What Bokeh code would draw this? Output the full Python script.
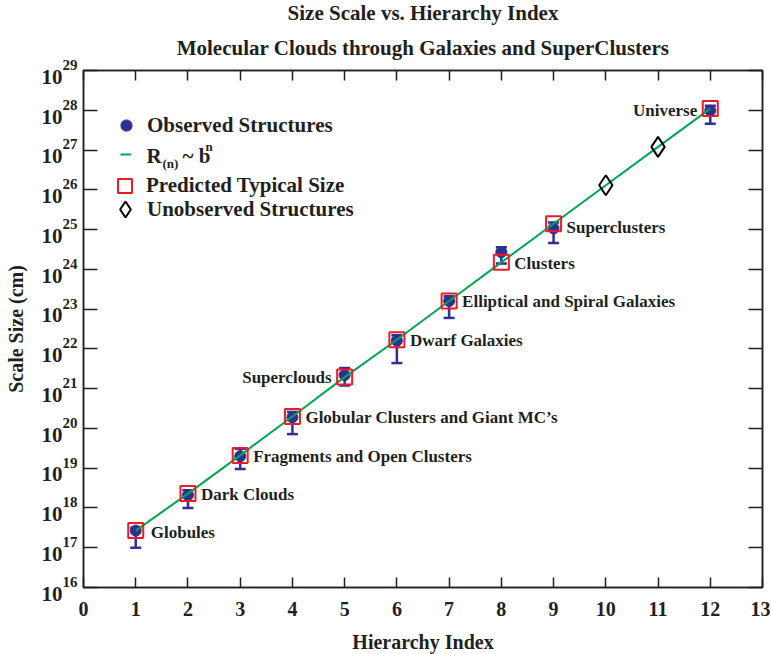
import math
from bokeh.plotting import figure
from bokeh.models import (Range1d, FixedTicker, LinearAxis, LogAxis, Whisker, TeeHead,
                          ColumnDataSource, Label, Legend, LegendItem, CustomJSTickFormatter,
                          Title)
from bokeh.embed import file_html
from bokeh.resources import INLINE

# ---------------- data ----------------
obs_index = [1, 2, 3, 4, 5, 6, 7, 8, 9, 12]
obs_size = [2.7e17, 2.1e18, 2.0e19, 1.9e20, 2.2e21, 1.6e22, 1.6e23, 2.7e24, 1.07e25, 9.8e27]
obs_lower = [1.0e17, 1.0e18, 9.5e18, 7.2e19, 1.2e21, 4.4e21, 6.0e22, 1.4e24, 4.6e24, 4.6e27]
obs_upper = [3.2e17, 2.8e18, 3.1e19, 2.6e20, 3.3e21, 2.2e22, 2.1e23, 3.6e24, 1.5e25, 1.3e28]

pred_index = [1, 2, 3, 4, 5, 6, 7, 8, 9, 12]
pred_size = [2.7e17, 2.3e18, 2.1e19, 2.0e20, 1.95e21, 1.7e22, 1.6e23, 1.5e24, 1.4e25, 1.1e28]

unobs_index = [10, 11]
unobs_size = [1.3e26, 1.2e27]

fit_index = [1, 2, 3, 4, 5, 6, 7, 8, 9, 10, 11, 12]
fit_size = [2.7e17, 2.3e18, 2.1e19, 2.0e20, 1.95e21, 1.7e22, 1.6e23, 1.5e24, 1.4e25,
            1.3e26, 1.2e27, 1.1e28]

structure_names = ["Globules", "Dark Clouds", "Fragments and Open Clusters",
                   "Globular Clusters and Giant MC\u2019s", "Superclouds", "Dwarf Galaxies",
                   "Elliptical and Spiral Galaxies", "Clusters", "Superclusters", "Universe"]
structure_index = [1, 2, 3, 4, 5, 6, 7, 8, 9, 12]
structure_size = [2.7e17, 2.3e18, 2.1e19, 2.0e20, 1.95e21, 1.7e22, 1.6e23, 1.5e24, 1.4e25, 1.1e28]

x_ticks = [0, 1, 2, 3, 4, 5, 6, 7, 8, 9, 10, 11, 12, 13]
y_exponents = [16, 17, 18, 19, 20, 21, 22, 23, 24, 25, 26, 27, 28, 29]

title_lines = ["Size Scale vs. Hierarchy Index",
               "Molecular Clouds through Galaxies and SuperClusters"]

# ---------------- style ----------------
FONT = "Liberation Serif"
TXT = "#231f20"
NAVY = "#2e3192"
RED = "#ed1c24"
GREEN = "#00a651"

YMIN = 1e16
YMAX = 1e29

p = figure(frame_width=679, frame_height=517,
           x_range=Range1d(0, 13), y_range=Range1d(YMIN, YMAX),
           y_axis_type="log", output_backend="svg", toolbar_location=None,
           x_axis_location=None,
           min_border_left=83, min_border_right=8, min_border_top=70, min_border_bottom=40)
p.grid.visible = False
p.outline_line_color = TXT
p.outline_line_width = 1.5
p.background_fill_color = "white"
p.border_fill_color = "white"

# axes: bottom (labelled), top and right (ticks only)
bottom = LinearAxis()
p.add_layout(bottom, "below")
top_axis = LinearAxis()
p.add_layout(top_axis, "above")
# two-line title, outward from the frame: line 2 then line 1
p.add_layout(Title(text=title_lines[1], align="center", text_font=FONT,
                   text_font_style="bold", text_font_size="21px", text_color=TXT,
                   standoff=21), "above")
p.title.text = title_lines[0]
p.title.align = "center"
p.title.text_font = FONT
p.title.text_font_style = "bold"
p.title.text_font_size = "21px"
p.title.text_color = TXT
p.title.standoff = -3

right_axis = LogAxis()
p.add_layout(right_axis, "right")

y_tick_values = [10.0 ** e for e in y_exponents]

# left: inner axis carries the ticks and the exponents, outer axis the "10"s
exp_axis = p.left[0]
ten_axis = LogAxis()
p.add_layout(ten_axis, "left")

blank = CustomJSTickFormatter(code="return ''")

for ax in [bottom, top_axis]:
    ax.ticker = FixedTicker(ticks=x_ticks, minor_ticks=[])
    ax.major_tick_in = 10
    ax.major_tick_out = 0
    ax.minor_tick_in = 0
    ax.minor_tick_out = 0
    ax.axis_line_color = TXT
    ax.axis_line_width = 1.5
    ax.major_tick_line_color = TXT
    ax.major_tick_line_width = 1.5

for ax in [exp_axis, ten_axis, right_axis]:
    ax.ticker = FixedTicker(ticks=y_tick_values, minor_ticks=[])
    ax.major_tick_in = 14
    ax.major_tick_out = 0
    ax.minor_tick_in = 0
    ax.minor_tick_out = 0
    ax.axis_line_color = TXT
    ax.axis_line_width = 1.5
    ax.major_tick_line_color = TXT
    ax.major_tick_line_width = 1.5

right_axis.formatter = blank
right_axis.major_label_standoff = 0
top_axis.formatter = blank
top_axis.major_label_standoff = 0

exp_axis.formatter = CustomJSTickFormatter(
    code="return String(Math.round(Math.log10(tick))) + '\\n ';")
exp_axis.major_label_text_font = FONT
exp_axis.major_label_text_font_style = "bold"
exp_axis.major_label_text_font_size = "15px"
exp_axis.major_label_text_line_height = 0.7
exp_axis.major_label_text_color = TXT
exp_axis.major_label_standoff = 6

ten_axis.formatter = CustomJSTickFormatter(code="return ' \\n10';")
ten_axis.axis_line_color = None
ten_axis.major_tick_line_color = None
ten_axis.major_label_text_font = FONT
ten_axis.major_label_text_font_style = "bold"
ten_axis.major_label_text_font_size = "21px"
ten_axis.major_label_text_line_height = 0.52
ten_axis.major_label_text_color = TXT
ten_axis.major_label_standoff = -3
ten_axis.axis_label = "Scale Size (cm)"
ten_axis.axis_label_text_font = FONT
ten_axis.axis_label_text_font_style = "bold"
ten_axis.axis_label_text_font_size = "20px"
ten_axis.axis_label_text_color = TXT
ten_axis.axis_label_standoff = 12

bottom.major_label_text_font = FONT
bottom.major_label_text_font_style = "bold"
bottom.major_label_text_font_size = "20px"
bottom.major_label_text_color = TXT
bottom.major_label_standoff = 14
bottom.axis_label = "Hierarchy Index"
bottom.axis_label_text_font = FONT
bottom.axis_label_text_font_style = "bold"
bottom.axis_label_text_font_size = "20px"
bottom.axis_label_text_color = TXT
bottom.axis_label_standoff = 12

# ---------------- data renderers ----------------
err_src = ColumnDataSource(dict(x=obs_index, lower=obs_lower, upper=obs_upper))
whisk = Whisker(source=err_src, base="x", lower="lower", upper="upper",
                line_color=NAVY, line_width=2.5, level="underlay",
                upper_head=TeeHead(size=11, line_color=NAVY, line_width=2.5),
                lower_head=TeeHead(size=11, line_color=NAVY, line_width=2.5))
p.add_layout(whisk)

circles = p.scatter(obs_index, obs_size, marker="circle", size=11,
                    fill_color=NAVY, line_color=NAVY)
fit_line = p.line(fit_index, fit_size, line_color=GREEN, line_width=2)
squares = p.scatter(pred_index, pred_size, marker="square", size=15,
                    fill_color=None, line_color=RED, line_width=2)
diamonds = p.scatter(unobs_index, unobs_size, marker="diamond", size=20,
                     fill_color=None, line_color="black", line_width=2)


def add_label(text, x, y, xo=0, yo=0, size="17px", align="left", angle=0.0):
    p.add_layout(Label(x=x, y=y, x_offset=xo, y_offset=yo, text=text,
                       text_font=FONT, text_font_style="bold", text_font_size=size,
                       text_color=TXT, text_align=align, text_baseline="middle",
                       angle=angle))


# structure annotations
label_place = {"Superclouds": (-13, 0, "right"), "Universe": (-13, -2, "right"),
               "Globules": (15, -2, "left"), "Superclusters": (13, -4, "left")}
for name, xi, yi in zip(structure_names, structure_index, structure_size):
    dx, dy, al = label_place.get(name, (13, -1, "left"))
    add_label(name, xi, yi, xo=dx, yo=dy, size="17px", align=al)


# ---------------- legend ----------------
def add_legend(label, rend, w, h, vx, vy, standoff):
    lg = Legend(items=[LegendItem(label=label, renderers=[rend])], location=(vx, vy),
                glyph_width=w, glyph_height=h, label_height=h, label_standoff=standoff,
                margin=0, padding=0, border_line_color=None, background_fill_alpha=0,
                label_text_font=FONT, label_text_font_style="bold",
                label_text_font_size="21px", label_text_color=TXT)
    p.add_layout(lg)


add_legend("Observed Structures", circles, 28, 28, 29, 448, 7)
add_legend(" ", fit_line, 11, 28, 37, 419, 15)
add_legend("Predicted Typical Size", squares, 35, 35, 24, 384, 4)
add_legend("Unobserved Structures", diamonds, 40, 40, 22, 358, 2)

# R_(n) ~ b^n legend text
add_label("R", 0, YMAX, xo=63, yo=-85, size="21px")
add_label("(n)", 0, YMAX, xo=79, yo=-93, size="13px")
add_label("~ b", 0, YMAX, xo=99, yo=-85, size="21px")
add_label("n", 0, YMAX, xo=122, yo=-76, size="13px")

open("out.html", "w").write(file_html(p, INLINE))
